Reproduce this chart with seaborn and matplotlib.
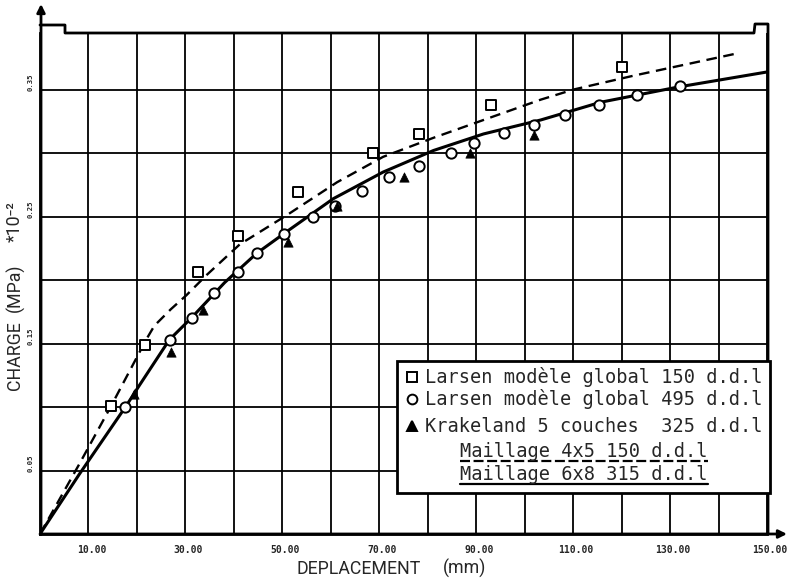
import numpy as np
import pandas as pd
import matplotlib
matplotlib.use("Agg")
import matplotlib.pyplot as plt
import seaborn as sns
from matplotlib.lines import Line2D
from matplotlib.patches import Rectangle
from matplotlib.transforms import ScaledTranslation

# ---------------- data ----------------
larsen150_x = [14.7, 21.7, 32.7, 40.8, 53.2, 68.7, 78.3, 93.1, 120.1]
larsen150_y = [0.101, 0.149, 0.206, 0.235, 0.269, 0.300, 0.315, 0.338, 0.368]

larsen495_x = [17.6, 26.9, 31.3, 35.8, 40.8, 44.7, 50.4, 56.4, 60.9, 66.4,
               72.0, 78.1, 84.9, 89.6, 95.7, 101.9, 108.3, 115.3, 123.2, 132.1]
larsen495_y = [0.100, 0.153, 0.170, 0.190, 0.206, 0.221, 0.236, 0.250, 0.258, 0.270,
               0.281, 0.290, 0.300, 0.308, 0.316, 0.322, 0.330, 0.338, 0.346, 0.353]

krakeland_x = [19.3, 27.1, 33.7, 51.1, 61.3, 75.2, 88.8, 101.9]
krakeland_y = [0.110, 0.143, 0.176, 0.230, 0.258, 0.281, 0.300, 0.314]

maillage45_x = [0, 8.1, 14.7, 21.9, 23.6, 27.0, 30.2, 34.4, 41.2, 50.9, 61.3,
                70.8, 81.2, 91.5, 103.3, 110.1, 122.6, 143.3]
maillage45_y = [0, 0.055, 0.101, 0.153, 0.164, 0.177, 0.188, 0.204, 0.228, 0.251, 0.277,
                0.297, 0.312, 0.326, 0.342, 0.350, 0.361, 0.378]

maillage68_x = [0, 8.1, 17.8, 20.5, 26.7, 31.2, 38.1, 44.7, 50.5, 60.5, 70.8,
                81.2, 91.5, 103.3, 115.7, 131.7, 150.3]
maillage68_y = [0, 0.047, 0.101, 0.117, 0.153, 0.170, 0.198, 0.221, 0.237, 0.264, 0.285,
                0.302, 0.315, 0.326, 0.340, 0.352, 0.364]

x_ticks = list(range(0, 151, 10))
x_ticklabels = ["" if (t // 10) % 2 == 0 else f"{t:.2f}" for t in x_ticks]
y_ticks = [0.05, 0.10, 0.15, 0.20, 0.25, 0.30, 0.35]
y_labeled = [0.05, 0.15, 0.25, 0.35]

legend_rows = ["Larsen modèle global 150 d.d.l",
               "Larsen modèle global 495 d.d.l",
               "Krakeland 5 couches  325 d.d.l"]
legend_lines = ["Maillage 4x5 150 d.d.l", "Maillage 6x8 315 d.d.l"]

# ---------------- figure ----------------
W, H = 794, 581
sns.set_style("white")
plt.rcParams["font.family"] = ["DejaVu Sans"]
fig = plt.figure(figsize=(W / 100, H / 100), dpi=100)

X0, X150, Y0, YTOP = 40, 767, 534, 33
ymax = 0.3945
ax = fig.add_axes([X0 / W, 1 - Y0 / H, (X150 - X0) / W, (Y0 - YTOP) / H])
ax.set_xlim(0, 150)
ax.set_ylim(0, ymax)

def F(x, y):
    return (x / W, 1 - y / H)

def fline(xs, ys, **kw):
    kw.setdefault("color", "black")
    fig.add_artist(Line2D([x / W for x in xs], [1 - y / H for y in ys],
                          transform=fig.transFigure, **kw))

# curves
df45 = pd.DataFrame({"x": maillage45_x, "y": maillage45_y})
df68 = pd.DataFrame({"x": maillage68_x, "y": maillage68_y})
sns.lineplot(data=df45, x="x", y="y", ax=ax, color="black", lw=1.7,
             linestyle=(0, (4.5, 2.8)), sort=False, estimator=None, zorder=3)
sns.lineplot(data=df68, x="x", y="y", ax=ax, color="black", lw=2.2,
             sort=False, estimator=None, zorder=3)

# markers
sns.scatterplot(x=larsen150_x, y=larsen150_y, ax=ax, marker="s", s=50,
                facecolor="white", edgecolor="black", linewidth=1.4, zorder=4)
sns.scatterplot(x=larsen495_x, y=larsen495_y, ax=ax, marker="o", s=55,
                facecolor="white", edgecolor="black", linewidth=1.4, zorder=4)
sns.scatterplot(x=krakeland_x, y=krakeland_y, ax=ax, marker="^", s=45,
                color="black", edgecolor="black", linewidth=0.5, zorder=4)

# grid / ticks
ax.set_xticks(x_ticks)
ax.set_xticklabels(x_ticklabels, fontfamily="DejaVu Sans Mono",
                   fontweight="bold", fontsize=7)
ax.set_yticks(y_ticks)
ax.set_yticklabels([])
ax.grid(True, color="black", lw=1.3)
ax.set_axisbelow(True)
ax.tick_params(axis="both", direction="out", length=5, width=1.3,
               color="black", pad=6)
ax.tick_params(axis="x", pad=3)
shift = ScaledTranslation(0.03, 0, fig.dpi_scale_trans)
for lab in ax.get_xticklabels():
    lab.set_transform(lab.get_transform() + shift)
for sp in ["top", "right"]:
    ax.spines[sp].set_visible(False)
for sp in ["left", "bottom"]:
    ax.spines[sp].set_linewidth(2)
    ax.spines[sp].set_color("black")
ax.set_xlabel("")
ax.set_ylabel("")

# y tick labels (rotated, sitting above gridline)
for v in y_labeled:
    ypix = Y0 - v * (Y0 - YTOP) / ymax
    fig.text(*F(31, ypix + 1), f"{v:.2f}", rotation=90, ha="center", va="bottom",
             fontfamily="DejaVu Sans Mono", fontweight="bold", fontsize=5.2)

# frame with steps
fline([X0, 65, 65, 754, 755, 768, 768], [25, 25, 33, 33, 24, 24, Y0], lw=2)

# axis arrows
ax.annotate("", xy=(787, H - Y0), xytext=(X0, H - Y0), xycoords="figure pixels",
            textcoords="figure pixels",
            arrowprops=dict(arrowstyle="-|>", lw=2, color="black",
                            mutation_scale=12, shrinkA=0, shrinkB=0))
ax.annotate("", xy=(X0 + 1, H - 4), xytext=(X0 + 1, H - Y0), xycoords="figure pixels",
            textcoords="figure pixels",
            arrowprops=dict(arrowstyle="-|>", lw=2, color="black",
                            mutation_scale=12, shrinkA=0, shrinkB=0))

# axis labels
narrow = ["Roboto", "DejaVu Sans"]
lab_size = 12.8
fig.text(*F(297, 574), "DEPLACEMENT", ha="left", va="baseline",
         family=narrow, fontsize=lab_size)
fig.text(*F(443, 574), "(mm)", ha="left", va="baseline",
         family=narrow, fontsize=lab_size)
fig.text(*F(15, 356), "CHARGE", rotation=90, ha="center", va="center",
         family=narrow, fontsize=lab_size)
fig.text(*F(15, 288), "(MPa)", rotation=90, ha="center", va="center",
         family=narrow, fontsize=lab_size)
fig.text(*F(15, 222), "*10⁻²", rotation=90, ha="center", va="center",
         family=narrow, fontsize=lab_size)

# legend box
fig.add_artist(Rectangle(F(397, 493), 373 / W, 132 / H, transform=fig.transFigure,
                         facecolor="white", edgecolor="black", lw=2, zorder=5))
mono = "DejaVu Sans Mono"
row_base = [383, 405, 432]
row_mark = ["s", "o", "^"]
for txt, yb, mk in zip(legend_rows, row_base, row_mark):
    fig.text(*F(425, yb), txt, ha="left", va="baseline", family=mono,
             fontsize=13.4, zorder=6)
    fig.add_artist(Line2D([412 / W], [1 - (yb - 6) / H], transform=fig.transFigure,
                          marker=mk, markersize=7 if mk != "^" else 6.5,
                          markerfacecolor="white" if mk != "^" else "black",
                          markeredgecolor="black", markeredgewidth=1.4,
                          linestyle="none", zorder=6))
line_base = [457, 480]
line_styles = [(0, (4.5, 1.6)), "-"]
for txt, yb, ls in zip(legend_lines, line_base, line_styles):
    fig.text(*F(460, yb), txt, ha="left", va="baseline", family=mono,
             fontsize=13.4, zorder=6)
    fline([460, 708], [yb + 4, yb + 4], lw=1.6, linestyle=ls, zorder=6)

fig.savefig("out.png", dpi=100)
